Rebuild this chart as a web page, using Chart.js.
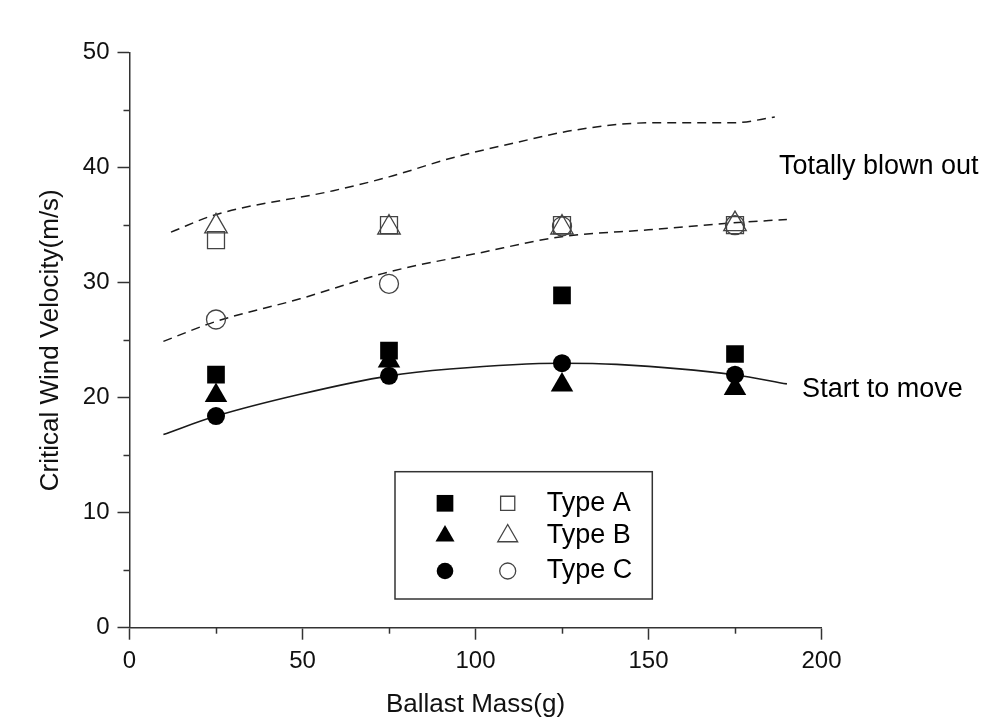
<!DOCTYPE html>
<html>
<head>
<meta charset="utf-8">
<script src="https://cdn.jsdelivr.net/npm/chart.js@4.4.1/dist/chart.umd.min.js"></script>
<style>
  html, body { margin: 0; padding: 0; background: #ffffff; }
  #wrap { width: 1003px; height: 721px; }
</style>
</head>
<body>
<div id="wrap"><canvas id="c" width="1003" height="721"></canvas></div>
<script>
// ---- data ----
const ballastMass = [25, 75, 125, 175];

// filled markers: start to move
const typeAStart = [22.0, 24.1, 28.9, 23.8];
const typeBStart = [20.2, 23.2, 21.1, 20.8];
const typeCStart = [18.4, 21.9, 23.0, 22.0];

// open markers: totally blown out
const typeABlown = [33.7, 35.0, 35.0, 35.0];
const typeBBlown = [34.9, 34.8, 34.8, 35.1];
const typeCBlown = [26.8, 29.9, 34.9, 35.0];

// trend curves
const upperCurveX = [12, 24.7, 58.9, 75, 92.6, 111.9, 129.3, 150.4, 174.4, 186.5];
const upperCurveY = [34.4, 35.9, 38.0, 39.2, 40.8, 42.2, 43.3, 43.9, 43.9, 44.4];
const lowerCurveX = [9.8, 24.7, 49.3, 74.5, 101.3, 124.9, 150, 174.4, 190];
const lowerCurveY = [24.9, 26.6, 28.6, 30.9, 32.6, 34.0, 34.6, 35.2, 35.5];
const solidCurveX = [9.8, 25, 49.3, 75, 92.6, 125, 140.8, 174.8, 190];
const solidCurveY = [16.8, 18.4, 20.3, 21.9, 22.5, 23.0, 22.9, 22.0, 21.2];

const xTicksMajor = [0, 50, 100, 150, 200];
const xTicksMinor = [25, 75, 125, 175];
const yTicksMajor = [0, 10, 20, 30, 40, 50];
const yTicksMinor = [5, 15, 25, 35, 45];

const legendRows = ['Type A', 'Type B', 'Type C'];
const annotations = [
  { text: 'Totally blown out', x: 187.7, y: 40.1 },
  { text: 'Start to move', x: 194.4, y: 20.7 }
];
// ---------------------------------------

const FONT = "'Liberation Sans', Arial, sans-serif";
const AXIS = '#333333';

function pts(xs, ys) { return xs.map((x, i) => ({ x: x, y: ys[i] })); }

function curve(xs, ys, dash, width) {
  return {
    data: pts(xs, ys), showLine: true, pointRadius: 0, pointHoverRadius: 0,
    borderColor: '#1a1a1a', borderWidth: width, borderDash: dash,
    cubicInterpolationMode: 'monotone', fill: false, order: 10
  };
}
function markers(ys, style, r, filled) {
  return {
    data: pts(ballastMass, ys), showLine: false,
    pointStyle: style, pointRadius: r, pointHoverRadius: r,
    backgroundColor: filled ? '#000000' : 'rgba(0,0,0,0)',
    borderColor: filled ? '#000000' : '#444444',
    borderWidth: filled ? 0 : 1.3, order: filled ? 1 : 2
  };
}

const extras = {
  id: 'extras',
  afterDraw(chart) {
    const ctx = chart.ctx;
    const xs = chart.scales.x, ys = chart.scales.y;
    const ca = chart.chartArea;
    ctx.save();
    // minor ticks
    ctx.strokeStyle = AXIS; ctx.lineWidth = 1.5;
    xTicksMinor.forEach(v => {
      const px = Math.round(xs.getPixelForValue(v)) + 0.5;
      ctx.beginPath(); ctx.moveTo(px, ca.bottom); ctx.lineTo(px, ca.bottom + 6); ctx.stroke();
    });
    yTicksMinor.forEach(v => {
      const py = Math.round(ys.getPixelForValue(v)) + 0.5;
      ctx.beginPath(); ctx.moveTo(ca.left, py); ctx.lineTo(ca.left - 6, py); ctx.stroke();
    });
    // annotations
    ctx.fillStyle = '#000000';
    ctx.font = '27px ' + FONT;
    ctx.textAlign = 'left'; ctx.textBaseline = 'middle';
    annotations.forEach(a => {
      ctx.fillText(a.text, xs.getPixelForValue(a.x), ys.getPixelForValue(a.y));
    });
    // legend box
    const bx = ca.left + 265.5, by = ca.top + 419, bw = 257.3, bh = 127.3;
    ctx.strokeStyle = AXIS; ctx.lineWidth = 1.5;
    ctx.strokeRect(bx, by, bw, bh);
    const rowY = [by + 31.6, by + 64.3, by + 99.3];
    const filledStyles = [['rect', 11.8], ['triangle', 11], ['circle', 8.3]];
    const openStyles = [['rect', 10], ['triangle', 11.5], ['circle', 8]];
    legendRows.forEach((label, i) => {
      ctx.fillStyle = '#000000'; ctx.strokeStyle = '#000000';
      Chart.helpers.drawPoint(ctx, { pointStyle: filledStyles[i][0], radius: filledStyles[i][1], rotation: 0, borderWidth: 0 }, bx + 50, rowY[i]);
      ctx.fillStyle = 'rgba(0,0,0,0)'; ctx.strokeStyle = '#444444'; ctx.lineWidth = 1.3;
      Chart.helpers.drawPoint(ctx, { pointStyle: openStyles[i][0], radius: openStyles[i][1], rotation: 0, borderWidth: 1.3 }, bx + 112.7, rowY[i]);
      ctx.fillStyle = '#000000';
      ctx.font = '27px ' + FONT;
      ctx.textAlign = 'left'; ctx.textBaseline = 'middle';
      ctx.fillText(label, bx + 151.7, rowY[i]);
    });
    ctx.restore();
  }
};

new Chart(document.getElementById('c'), {
  type: 'scatter',
  data: {
    datasets: [
      curve(upperCurveX, upperCurveY, [9, 6], 1.5),
      curve(lowerCurveX, lowerCurveY, [9, 6], 1.5),
      curve(solidCurveX, solidCurveY, [], 1.6),
      markers(typeCBlown, 'circle', 9.5, false),
      markers(typeABlown, 'rect', 12, false),
      markers(typeBBlown, 'triangle', 13, false),
      markers(typeCStart, 'circle', 9, true),
      markers(typeBStart, 'triangle', 13, true),
      markers(typeAStart, 'rect', 12.5, true)
    ]
  },
  options: {
    responsive: false,
    animation: false,
    events: [],
    layout: { padding: { left: 0, top: 52.7, right: 181.5, bottom: 0 } },
    plugins: { legend: { display: false }, tooltip: { enabled: false } },
    scales: {
      x: {
        type: 'linear', min: 0, max: 200,
        afterBuildTicks(s) { s.ticks = xTicksMajor.map(v => ({ value: v })); },
        afterFit(s) { s.height = 93.3; },
        ticks: { color: '#111', font: { family: FONT, size: 24 }, padding: 7, maxRotation: 0 },
        grid: { display: true, drawOnChartArea: false, drawTicks: true, tickLength: 12, tickColor: AXIS, tickWidth: 1.5 },
        border: { display: true, color: AXIS, width: 1.5 },
        title: { display: true, text: 'Ballast Mass(g)', color: '#111', font: { family: FONT, size: 26 }, padding: { top: 0, bottom: 1 } }
      },
      y: {
        type: 'linear', min: 0, max: 50,
        afterBuildTicks(s) { s.ticks = yTicksMajor.map(v => ({ value: v })); },
        afterFit(s) { s.width = 129.5; },
        ticks: { color: '#111', font: { family: FONT, size: 24 }, padding: 8 },
        grid: { display: true, drawOnChartArea: false, drawTicks: true, tickLength: 12, tickColor: AXIS, tickWidth: 1.5 },
        border: { display: true, color: AXIS, width: 1.5 },
        title: { display: true, text: 'Critical Wind Velocity(m/s)', color: '#111', font: { family: FONT, size: 26 }, padding: { top: 35.7, bottom: 0 } }
      }
    }
  },
  plugins: [extras]
});
</script>
</body>
</html>
